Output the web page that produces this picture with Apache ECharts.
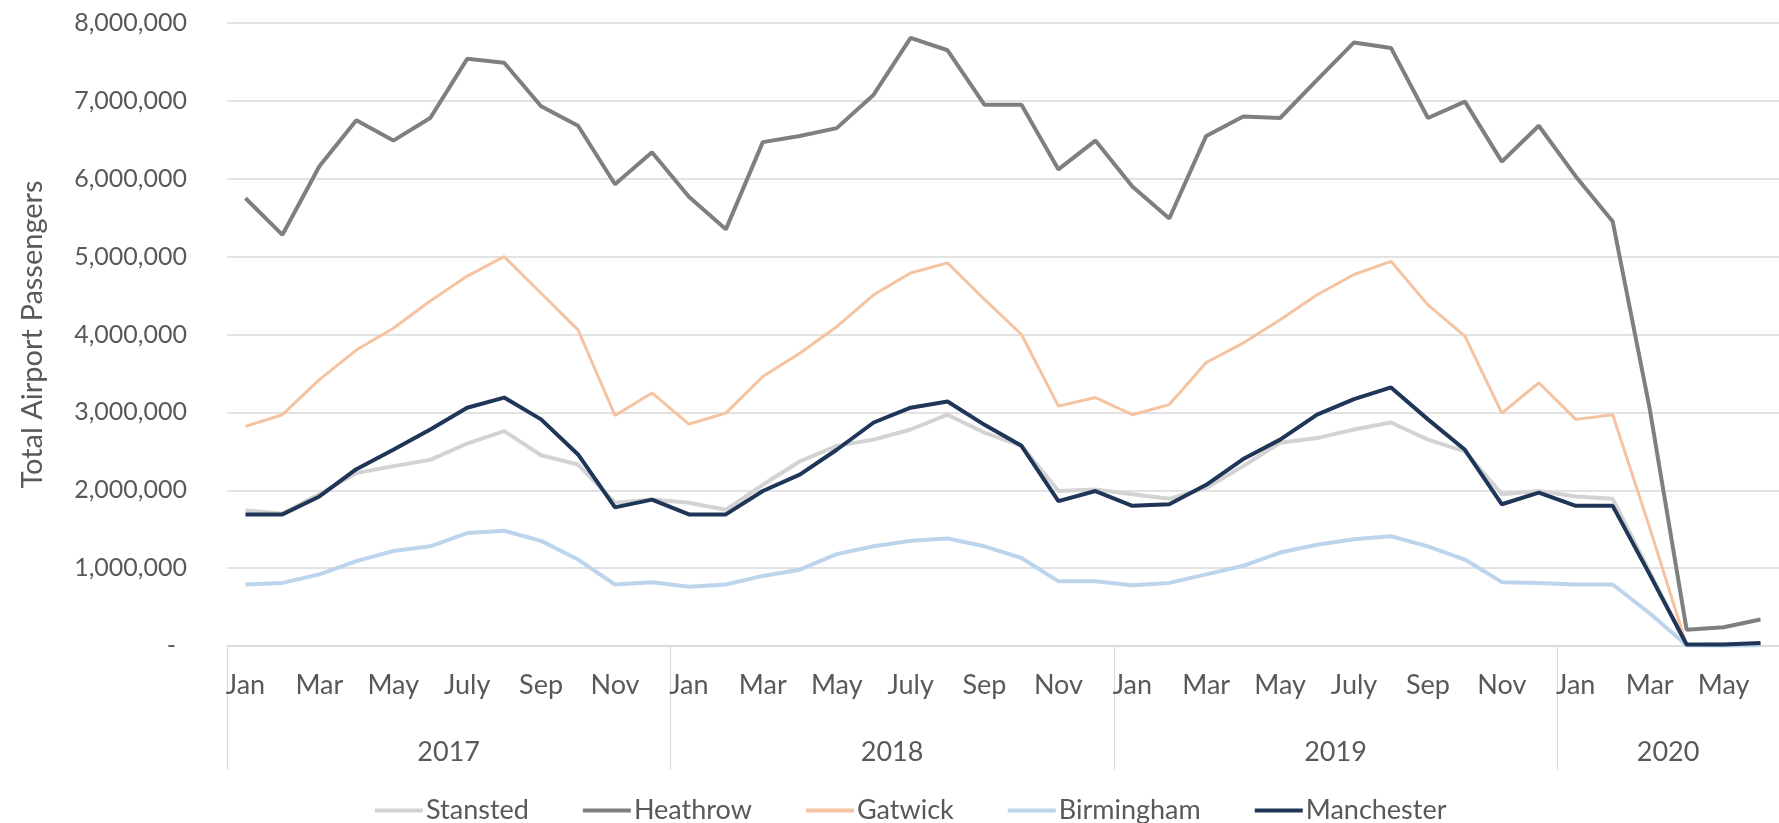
<!DOCTYPE html>
<html>
<head>
<meta charset="utf-8">
<script src="https://cdn.jsdelivr.net/npm/echarts@6/dist/echarts.min.js"></script>
<style>
  html, body { margin: 0; padding: 0; background: #fff; }
  #chart { width: 1779px; height: 823px; }
</style>
</head>
<body>
<div id="chart"></div>
<script>
// months Jan 2017 .. Jun 2020
const years = ['2017', '2018', '2019', '2020'];
const monthNames = ['Jan', 'Feb', 'Mar', 'Apr', 'May', 'Jun', 'July', 'Aug', 'Sep', 'Oct', 'Nov', 'Dec'];
const monthsPerYear = [12, 12, 12, 6];

// passengers, millions
const stansted = [
  1.74, 1.70, 1.95, 2.22, 2.31, 2.39, 2.60, 2.76, 2.45, 2.33, 1.84, 1.88,
  1.84, 1.75, 2.07, 2.37, 2.57, 2.65, 2.78, 2.97, 2.74, 2.57, 1.99, 2.01,
  1.95, 1.89, 2.03, 2.31, 2.61, 2.67, 2.78, 2.87, 2.65, 2.50, 1.95, 1.99,
  1.92, 1.89, 0.95, 0.01, 0.02, 0.02
];
const heathrow = [
  5.75, 5.28, 6.16, 6.75, 6.49, 6.78, 7.54, 7.49, 6.93, 6.68, 5.93, 6.34,
  5.77, 5.35, 6.47, 6.55, 6.65, 7.08, 7.81, 7.65, 6.95, 6.95, 6.12, 6.49,
  5.90, 5.49, 6.55, 6.80, 6.78, 7.27, 7.75, 7.68, 6.78, 6.99, 6.22, 6.68,
  6.03, 5.45, 3.05, 0.21, 0.24, 0.34
];
const gatwick = [
  2.82, 2.97, 3.42, 3.80, 4.08, 4.43, 4.75, 5.00, 4.53, 4.06, 2.96, 3.25,
  2.85, 2.99, 3.46, 3.76, 4.10, 4.51, 4.79, 4.92, 4.45, 4.00, 3.08, 3.19,
  2.97, 3.10, 3.64, 3.89, 4.19, 4.51, 4.77, 4.94, 4.38, 3.98, 2.99, 3.38,
  2.91, 2.97, 1.52, 0.01, 0.01, 0.02
];
const birmingham = [
  0.79, 0.81, 0.92, 1.09, 1.22, 1.28, 1.45, 1.48, 1.35, 1.11, 0.79, 0.82,
  0.76, 0.79, 0.90, 0.98, 1.18, 1.28, 1.35, 1.38, 1.28, 1.13, 0.83, 0.83,
  0.78, 0.81, 0.92, 1.03, 1.20, 1.30, 1.37, 1.41, 1.28, 1.11, 0.82, 0.81,
  0.79, 0.79, 0.42, 0.01, 0.005, 0.01
];
const manchester = [
  1.69, 1.69, 1.92, 2.27, 2.52, 2.78, 3.06, 3.19, 2.91, 2.46, 1.78, 1.88,
  1.69, 1.69, 1.99, 2.20, 2.52, 2.87, 3.06, 3.14, 2.84, 2.57, 1.86, 1.99,
  1.80, 1.82, 2.07, 2.40, 2.65, 2.97, 3.17, 3.32, 2.91, 2.52, 1.82, 1.97,
  1.80, 1.80, 0.92, 0.02, 0.02, 0.04
];
const yTicks = [0, 1000000, 2000000, 3000000, 4000000, 5000000, 6000000, 7000000, 8000000];

// category list "2017|Jan" ...
const categories = [];
years.forEach((y, yi) => {
  for (let m = 0; m < monthsPerYear[yi]; m++) categories.push(y + '|' + monthNames[m]);
});
// index of first month of each year, and the label slot in its middle
const yearStart = [];
const yearLabelIdx = {};
let acc = 0;
years.forEach((y, yi) => {
  yearStart.push(acc);
  yearLabelIdx[acc + monthsPerYear[yi] / 2] = y;
  acc += monthsPerYear[yi];
});

const toPax = arr => arr.map(v => Math.round(v * 1000000));

const txt = '#595959';
const font = 'Lato, "Open Sans", sans-serif';
const gridCol = '#d9d9d9';

const chart = echarts.init(document.getElementById('chart'));

const band = (1786 - 227) / categories.length;

chart.setOption({
  animation: false,
  textStyle: { fontFamily: font },
  grid: { left: 227, right: -7, top: 23, bottom: 177 },
  legend: {
    data: ['Stansted', 'Heathrow', 'Gatwick', 'Birmingham', 'Manchester'],
    left: 370,
    top: 792,
    icon: 'rect',
    itemWidth: 48,
    itemHeight: 4,
    itemGap: 54,
    textStyle: { color: txt, fontSize: 27, fontFamily: font, padding: [0, 0, 0, -2] }
  },
  xAxis: [
    {
      type: 'category',
      data: categories,
      boundaryGap: true,
      axisLine: { lineStyle: { color: gridCol, width: 1.5 } },
      axisTick: { show: false },
      axisLabel: {
        interval: 1,
        margin: 26,
        color: txt,
        fontSize: 27,
        formatter: v => v.split('|')[1]
      }
    },
    {
      type: 'category',
      data: categories,
      position: 'bottom',
      boundaryGap: true,
      axisLine: { show: false },
      axisTick: {
        show: true,
        length: 124,
        interval: i => yearStart.indexOf(i) >= 0,
        lineStyle: { color: gridCol, width: 1 }
      },
      axisLabel: {
        interval: i => yearLabelIdx[i] !== undefined,
        margin: 93,
        color: txt,
        fontSize: 27,
        padding: [0, band, 0, 0],
        formatter: (v, i) => yearLabelIdx[i] || ''
      }
    }
  ],
  yAxis: {
    type: 'value',
    min: yTicks[0],
    max: yTicks[yTicks.length - 1],
    interval: yTicks[1] - yTicks[0],
    name: 'Total Airport Passengers',
    nameLocation: 'middle',
    nameRotate: 90,
    nameGap: 180,
    nameTextStyle: { color: txt, fontSize: 29, fontFamily: font },
    axisLine: { show: false },
    axisTick: { show: false },
    splitLine: { lineStyle: { color: gridCol, width: 1.5 } },
    axisLabel: {
      margin: 40,
      color: txt,
      fontSize: 25,
      formatter: v => v === 0 ? '{d|-}' : v.toLocaleString('en-US'),
      rich: { d: { color: txt, fontSize: 25, padding: [0, 11, 0, 0] } }
    }
  },
  series: [
    { name: 'Stansted', type: 'line', data: toPax(stansted), symbol: 'none', color: '#d3d3d3', lineStyle: { width: 4, color: '#d3d3d3' } },
    { name: 'Heathrow', type: 'line', data: toPax(heathrow), symbol: 'none', color: '#7f7f7f', lineStyle: { width: 4, color: '#7f7f7f' } },
    { name: 'Gatwick', type: 'line', data: toPax(gatwick), symbol: 'none', color: '#f6c3a0', lineStyle: { width: 3, color: '#f6c3a0' } },
    { name: 'Birmingham', type: 'line', data: toPax(birmingham), symbol: 'none', color: '#bcd4ec', lineStyle: { width: 4, color: '#bcd4ec' } },
    { name: 'Manchester', type: 'line', data: toPax(manchester), symbol: 'none', color: '#1f3658', lineStyle: { width: 4, color: '#1f3658' } }
  ]
});
</script>
</body>
</html>
